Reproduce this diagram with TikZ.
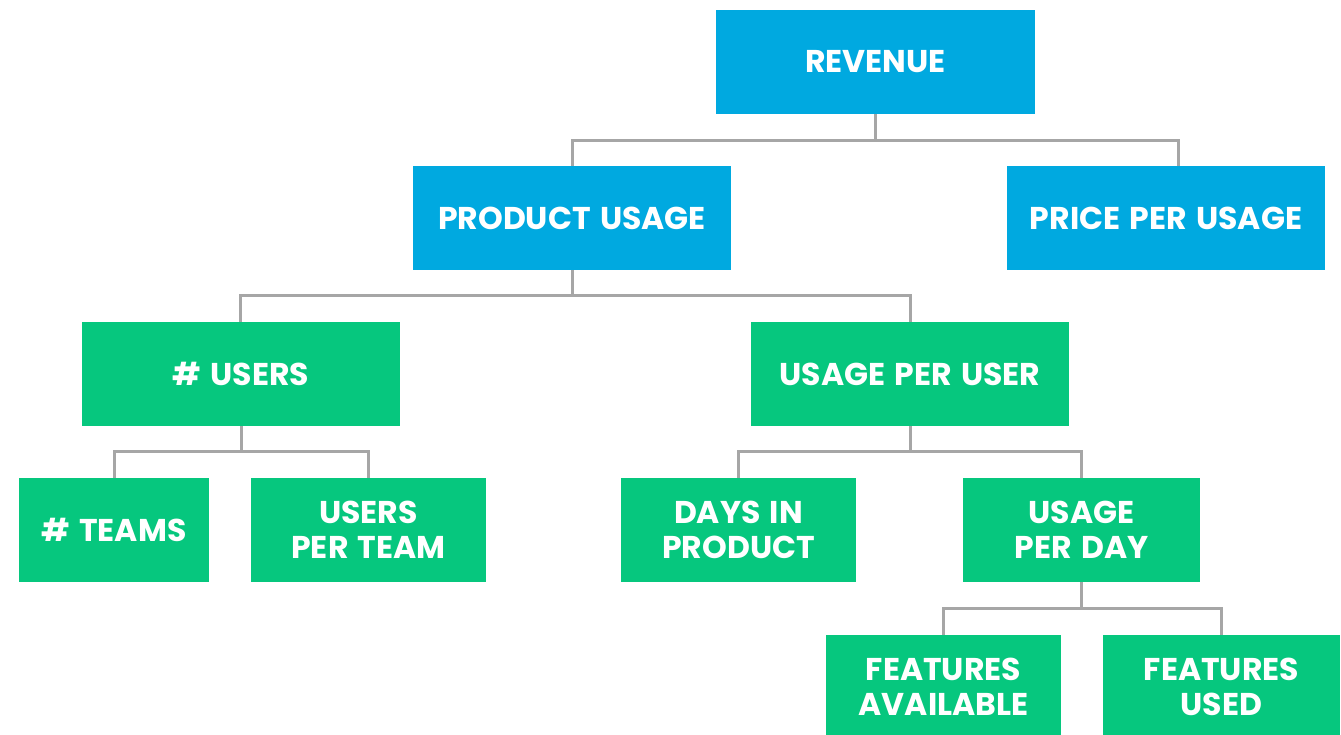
\documentclass[tikz,border=0pt]{standalone}
\usepackage{fontspec}
\setmainfont{Poppins}[WordSpace={1.4}]
\definecolor{bluebox}{RGB}{0,169,224}
\definecolor{greenbox}{RGB}{6,199,126}
\definecolor{conngray}{RGB}{166,166,166}
\begin{document}
\begin{tikzpicture}[x=1pt,y=-1pt,
  box/.style={inner sep=0pt, minimum height=104pt, align=center, text=white,
    font=\fontsize{31.5}{35}\selectfont\bfseries},
  bbox/.style={box, fill=bluebox},
  gbox/.style={box, fill=greenbox},
  conn/.style={draw=conngray, line width=3pt}]
\useasboundingbox (0,0) rectangle (1341,735);
\node[bbox, minimum width=319pt] (rev) at (875.5,62) {REVENUE};
\node[bbox, minimum width=318pt] (pu) at (572,218) {PRODUCT USAGE};
\node[bbox, minimum width=318pt] (ppu) at (1166,218) {PRICE PER USAGE};
\node[gbox, minimum width=318pt] (users) at (241,374) {\# USERS};
\node[gbox, minimum width=318pt] (upu) at (910,374) {USAGE PER USER};
\node[gbox, minimum width=190pt] (teams) at (114,530) {\# TEAMS};
\node[gbox, minimum width=235pt] (upt) at (368.5,530) {USERS\\PER TEAM};
\node[gbox, minimum width=235pt] (days) at (738.5,530) {DAYS IN\\PRODUCT};
\node[gbox, minimum width=237pt] (upd) at (1081.5,530) {USAGE\\PER DAY};
\node[gbox, minimum width=235pt] (fa) at (943.5,687) {FEATURES\\AVAILABLE};
\node[gbox, minimum width=237pt] (fu) at (1221.5,687) {FEATURES\\USED};
\draw[conn] (rev.south) -- ++(0,26) -| (pu.north);
\draw[conn] (rev.south) -- ++(0,26) -| ([xshift=12pt]ppu.north);
\draw[conn] (pu.south) -- ++(0,25) -| ([xshift=-1pt]users.north);
\draw[conn] (pu.south) -- ++(0,25) -| (upu.north);
\draw[conn] (users.south) -- ++(0,25) -| (teams.north);
\draw[conn] (users.south) -- ++(0,25) -| (upt.north);
\draw[conn] (upu.south) -- ++(0,25) -| (days.north);
\draw[conn] (upu.south) -- ++(0,25) -| (upd.north);
\draw[conn] (upd.south) -- ++(0,26) -| (fa.north);
\draw[conn] (upd.south) -- ++(0,26) -| (fu.north);
\end{tikzpicture}
\end{document}
